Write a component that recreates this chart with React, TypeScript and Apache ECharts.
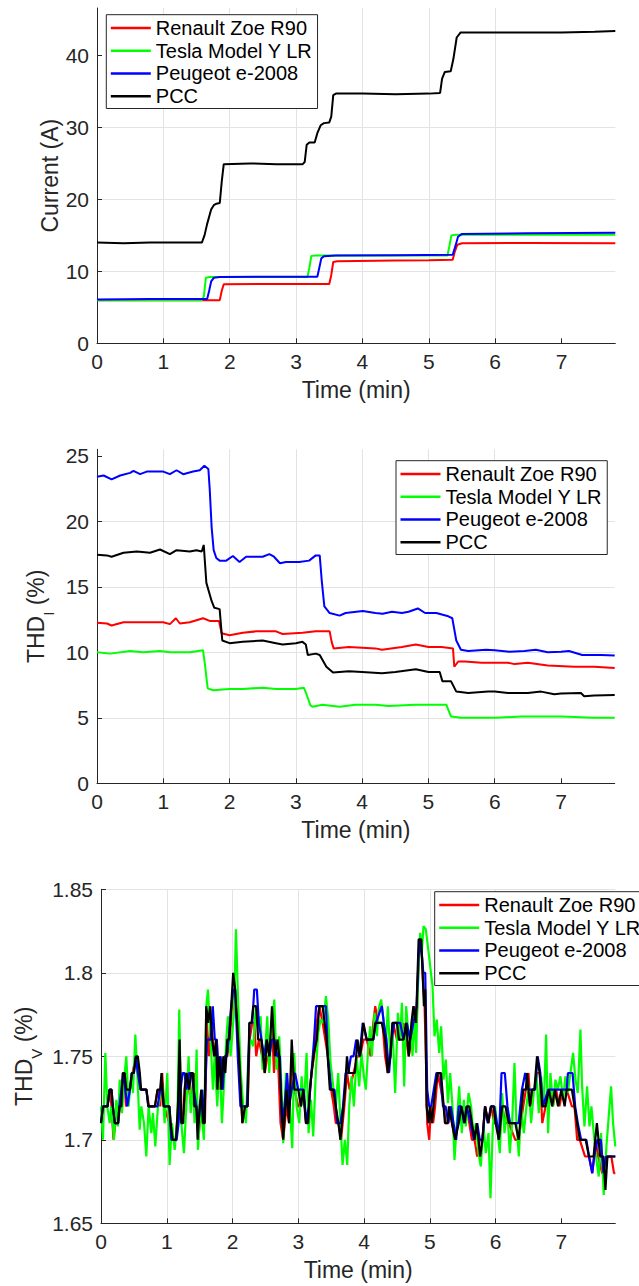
import React, { useEffect, useRef } from "react";
import * as echarts from "echarts";

const FONT = "'Liberation Sans', Arial, Helvetica, sans-serif";
const TXT = "#262626";
const GRID = "#e3e3e3";

const seriesNames = ["Renault Zoe R90", "Tesla Model Y LR", "Peugeot e-2008", "PCC"];
const seriesColors = ["#ff0000", "#00ff00", "#0000ff", "#000000"];

const timeTicks = [0, 1, 2, 3, 4, 5, 6, 7];
const currentTicks = [0, 10, 20, 30, 40];
const thdITicks = [0, 5, 10, 15, 20, 25];
const thdVTicks = [1.65, 1.7, 1.75, 1.8, 1.85];

// ---------- Panel 1: Current (A) ----------
const renaultCurrent = [[0,6.0],[0.8,6.0],[1.6,6.0],[1.85,6.0],[1.88,7.3],[1.91,8.2],[2.5,8.25],[3.0,8.25],[3.5,8.25],[3.53,9.5],[3.56,11.3],[3.62,11.4],[4.5,11.5],[5.0,11.55],[5.36,11.6],[5.39,12.7],[5.43,13.7],[5.5,13.9],[6.5,13.95],[7.81,13.9]];
const teslaCurrent = [[0,6.0],[1.58,6.0],[1.61,6.5],[1.64,9.1],[1.7,9.2],[2.5,9.2],[3.17,9.2],[3.2,10.5],[3.23,12.15],[3.3,12.2],[4.5,12.2],[5.28,12.2],[5.31,13.5],[5.34,15.0],[5.4,15.1],[6.5,15.1],[7.81,15.1]];
const peugeotCurrent = [[0,6.1],[0.8,6.15],[1.66,6.15],[1.69,7.3],[1.72,8.6],[1.76,9.1],[1.85,9.2],[2.5,9.25],[3.32,9.25],[3.35,10.5],[3.38,11.8],[3.42,12.1],[3.6,12.2],[4.5,12.25],[5.36,12.3],[5.4,13.5],[5.44,14.8],[5.5,15.2],[6.5,15.3],[7.81,15.35]];
const pccCurrent = [[0,14.0],[0.4,13.9],[0.8,14.0],[1.2,14.0],[1.58,14.0],[1.62,15.0],[1.66,16.6],[1.72,18.6],[1.76,19.2],[1.8,19.4],[1.85,19.5],[1.88,22.5],[1.91,24.9],[2.3,25.0],[2.7,24.9],[3.1,24.9],[3.13,25.2],[3.16,27.6],[3.2,27.9],[3.28,27.9],[3.32,29.2],[3.37,30.3],[3.42,30.6],[3.5,30.7],[3.53,31.5],[3.56,34.5],[3.6,34.7],[4.0,34.7],[4.5,34.6],[5.0,34.7],[5.17,34.8],[5.2,36.8],[5.24,37.7],[5.33,37.8],[5.37,39.5],[5.42,42.5],[5.48,43.2],[6.0,43.2],[6.5,43.2],[7.0,43.2],[7.5,43.3],[7.81,43.4]];

// ---------- Panel 2: THD_I (%) ----------
const renaultThdI = [[0,12.25],[0.15,12.2],[0.22,12.05],[0.4,12.3],[0.7,12.3],[1.0,12.3],[1.1,12.15],[1.19,12.6],[1.25,12.2],[1.4,12.3],[1.6,12.6],[1.7,12.4],[1.84,12.4],[1.88,11.45],[2.0,11.3],[2.2,11.5],[2.4,11.6],[2.7,11.6],[2.8,11.4],[3.1,11.5],[3.3,11.6],[3.51,11.6],[3.54,10.8],[3.57,10.3],[3.8,10.4],[4.2,10.3],[4.3,10.2],[4.6,10.4],[4.81,10.6],[5.0,10.4],[5.2,10.4],[5.37,10.3],[5.39,8.9],[5.45,9.3],[5.55,9.3],[5.8,9.2],[6.2,9.2],[6.3,9.1],[6.5,9.2],[6.8,9.0],[7.2,8.9],[7.5,8.9],[7.81,8.8]];
const teslaThdI = [[0,10.0],[0.2,9.9],[0.5,10.1],[0.7,10.0],[0.95,10.1],[1.1,10.0],[1.4,10.0],[1.6,10.15],[1.63,9.0],[1.67,7.25],[1.75,7.1],[2.0,7.2],[2.2,7.2],[2.5,7.3],[2.7,7.2],[3.0,7.2],[3.12,7.3],[3.16,6.8],[3.22,5.95],[3.25,5.85],[3.4,6.0],[3.66,5.85],[3.9,6.0],[4.2,6.0],[4.4,5.9],[4.8,6.0],[5.0,6.0],[5.27,6.0],[5.3,5.6],[5.34,5.1],[5.5,5.0],[6.0,5.0],[6.4,5.1],[7.0,5.1],[7.5,5.0],[7.81,5.0]];
const peugeotThdI = [[0,23.4],[0.1,23.5],[0.22,23.2],[0.35,23.5],[0.5,23.7],[0.55,23.85],[0.65,23.6],[0.75,23.8],[1.0,23.8],[1.1,23.6],[1.2,23.9],[1.3,23.6],[1.45,23.8],[1.55,23.9],[1.62,24.25],[1.68,24.0],[1.7,22.5],[1.73,19.5],[1.76,17.8],[1.8,17.2],[1.85,17.0],[1.95,17.0],[2.05,17.35],[2.15,16.9],[2.25,17.3],[2.5,17.3],[2.6,17.5],[2.67,17.3],[2.76,16.8],[2.85,16.9],[3.05,16.9],[3.2,17.0],[3.3,17.4],[3.36,17.4],[3.39,15.5],[3.43,13.5],[3.51,13.0],[3.66,12.8],[3.75,13.0],[4.01,13.15],[4.2,13.0],[4.31,12.95],[4.45,13.1],[4.6,13.0],[4.7,13.1],[4.84,13.35],[4.95,13.0],[5.12,13.0],[5.3,12.75],[5.36,12.6],[5.42,10.9],[5.49,10.2],[5.6,10.1],[5.87,10.2],[6.0,10.15],[6.22,10.05],[6.45,10.1],[6.62,10.2],[6.8,10.0],[7.0,10.05],[7.12,10.1],[7.32,9.8],[7.6,9.8],[7.81,9.75]];
const pccThdI = [[0,17.45],[0.15,17.4],[0.22,17.3],[0.4,17.6],[0.6,17.7],[0.8,17.6],[0.95,17.85],[1.1,17.5],[1.2,17.8],[1.4,17.7],[1.5,17.8],[1.58,17.7],[1.61,18.2],[1.65,15.3],[1.73,13.9],[1.77,13.4],[1.85,13.3],[1.89,10.9],[2.0,10.7],[2.2,10.8],[2.5,10.9],[2.7,10.7],[2.8,10.6],[3.0,10.7],[3.1,10.8],[3.15,10.6],[3.18,9.8],[3.3,9.9],[3.36,9.8],[3.46,8.9],[3.56,8.45],[3.8,8.55],[4.0,8.5],[4.3,8.4],[4.5,8.5],[4.81,8.7],[5.0,8.5],[5.17,8.5],[5.21,7.8],[5.34,7.8],[5.42,7.0],[5.6,6.9],[5.9,7.0],[6.0,7.0],[6.2,6.9],[6.5,6.9],[6.7,7.0],[6.9,6.8],[7.0,6.85],[7.3,6.9],[7.35,6.65],[7.5,6.7],[7.81,6.75]];

// ---------- Panel 3: THD_V (%) ----------
const renaultThdV = [[0,1.71],[0.04,1.72],[0.1,1.72],[0.13,1.73],[0.16,1.72],[0.19,1.70],[0.22,1.71],[0.26,1.71],[0.29,1.72],[0.32,1.73],[0.35,1.74],[0.38,1.72],[0.44,1.73],[0.48,1.74],[0.53,1.75],[0.56,1.74],[0.6,1.73],[0.69,1.73],[0.73,1.72],[0.82,1.72],[0.86,1.73],[0.9,1.72],[0.93,1.74],[0.96,1.72],[1.04,1.71],[1.09,1.70],[1.14,1.70],[1.17,1.72],[1.2,1.75],[1.23,1.71],[1.27,1.72],[1.3,1.74],[1.34,1.73],[1.37,1.72],[1.41,1.74],[1.45,1.72],[1.48,1.70],[1.52,1.72],[1.55,1.71],[1.58,1.71],[1.61,1.77],[1.64,1.75],[1.67,1.77],[1.7,1.76],[1.73,1.75],[1.76,1.76],[1.79,1.73],[1.82,1.74],[1.85,1.73],[1.88,1.75],[1.92,1.75],[1.96,1.76],[1.99,1.78],[2.02,1.79],[2.05,1.78],[2.08,1.77],[2.11,1.74],[2.15,1.71],[2.19,1.72],[2.23,1.72],[2.26,1.76],[2.3,1.77],[2.33,1.77],[2.36,1.75],[2.4,1.76],[2.45,1.75],[2.49,1.74],[2.53,1.75],[2.56,1.75],[2.6,1.77],[2.63,1.74],[2.67,1.76],[2.7,1.74],[2.73,1.71],[2.77,1.70],[2.82,1.72],[2.86,1.71],[2.9,1.75],[2.94,1.73],[3.0,1.72],[3.04,1.72],[3.08,1.73],[3.12,1.71],[3.16,1.72],[3.2,1.74],[3.24,1.75],[3.28,1.77],[3.32,1.78],[3.37,1.77],[3.41,1.76],[3.45,1.75],[3.5,1.73],[3.54,1.72],[3.57,1.71],[3.61,1.71],[3.65,1.70],[3.7,1.72],[3.74,1.74],[3.78,1.73],[3.84,1.74],[3.9,1.75],[3.94,1.75],[3.99,1.76],[4.04,1.76],[4.1,1.75],[4.14,1.77],[4.17,1.78],[4.21,1.77],[4.28,1.77],[4.32,1.75],[4.36,1.74],[4.4,1.75],[4.44,1.77],[4.5,1.76],[4.54,1.76],[4.6,1.77],[4.64,1.76],[4.68,1.75],[4.72,1.76],[4.76,1.78],[4.8,1.77],[4.83,1.81],[4.87,1.82],[4.89,1.80],[4.92,1.78],[4.94,1.75],[4.96,1.71],[4.99,1.70],[5.02,1.72],[5.05,1.71],[5.08,1.72],[5.12,1.74],[5.17,1.73],[5.21,1.72],[5.24,1.71],[5.28,1.71],[5.31,1.72],[5.34,1.71],[5.38,1.70],[5.42,1.71],[5.47,1.72],[5.52,1.71],[5.56,1.72],[5.6,1.71],[5.64,1.70],[5.68,1.70],[5.72,1.69],[5.76,1.70],[5.8,1.70],[5.84,1.72],[5.89,1.71],[5.93,1.72],[5.98,1.71],[6.02,1.71],[6.06,1.70],[6.1,1.72],[6.15,1.71],[6.2,1.71],[6.3,1.70],[6.35,1.70],[6.42,1.72],[6.46,1.73],[6.5,1.74],[6.53,1.72],[6.57,1.73],[6.6,1.73],[6.63,1.74],[6.67,1.74],[6.71,1.71],[6.76,1.72],[6.82,1.73],[6.87,1.72],[6.92,1.73],[6.97,1.72],[7.02,1.73],[7.08,1.73],[7.16,1.72],[7.2,1.72],[7.24,1.70],[7.28,1.70],[7.36,1.69],[7.42,1.69],[7.47,1.68],[7.52,1.70],[7.56,1.69],[7.62,1.68],[7.66,1.68],[7.7,1.69],[7.76,1.69],[7.8,1.68],[7.82,1.68]];
const teslaThdV = [[0,1.72],[0.03,1.70],[0.066,1.752],[0.096,1.72],[0.132,1.71],[0.157,1.72],[0.198,1.70],[0.233,1.724],[0.258,1.708],[0.284,1.736],[0.319,1.716],[0.36,1.74],[0.385,1.75],[0.42,1.72],[0.461,1.74],[0.486,1.728],[0.522,1.763],[0.552,1.74],[0.588,1.706],[0.613,1.72],[0.654,1.71],[0.689,1.69],[0.724,1.72],[0.765,1.704],[0.79,1.716],[0.826,1.696],[0.866,1.72],[0.892,1.724],[0.917,1.736],[0.942,1.728],[0.967,1.71],[1.008,1.74],[1.043,1.685],[1.079,1.71],[1.12,1.694],[1.16,1.71],[1.19,1.778],[1.221,1.71],[1.261,1.692],[1.297,1.72],[1.332,1.75],[1.363,1.716],[1.398,1.732],[1.423,1.71],[1.454,1.754],[1.474,1.694],[1.515,1.72],[1.565,1.70],[1.601,1.78],[1.626,1.79],[1.666,1.76],[1.702,1.73],[1.727,1.75],[1.768,1.72],[1.803,1.75],[1.839,1.71],[1.879,1.74],[1.905,1.76],[1.93,1.774],[1.97,1.75],[2.022,1.776],[2.052,1.826],[2.087,1.78],[2.123,1.742],[2.163,1.72],[2.204,1.71],[2.239,1.75],[2.275,1.76],[2.315,1.756],[2.356,1.78],[2.391,1.766],[2.427,1.774],[2.457,1.742],[2.493,1.752],[2.528,1.774],[2.558,1.74],[2.594,1.766],[2.635,1.784],[2.67,1.742],[2.71,1.762],[2.746,1.73],[2.771,1.698],[2.812,1.74],[2.847,1.728],[2.872,1.72],[2.908,1.695],[2.938,1.752],[2.974,1.72],[3.015,1.71],[3.05,1.738],[3.085,1.72],[3.126,1.752],[3.156,1.704],[3.192,1.724],[3.227,1.702],[3.268,1.742],[3.303,1.764],[3.339,1.772],[3.379,1.77],[3.42,1.786],[3.455,1.772],[3.49,1.746],[3.531,1.732],[3.571,1.72],[3.607,1.74],[3.642,1.71],[3.673,1.685],[3.708,1.70],[3.744,1.685],[3.774,1.72],[3.809,1.738],[3.845,1.72],[3.886,1.75],[3.926,1.732],[3.961,1.752],[3.997,1.738],[4.027,1.73],[4.058,1.752],[4.093,1.768],[4.119,1.75],[4.159,1.776],[4.195,1.762],[4.22,1.778],[4.26,1.784],[4.296,1.772],[4.331,1.756],[4.362,1.78],[4.398,1.75],[4.433,1.766],[4.473,1.728],[4.514,1.776],[4.549,1.76],[4.575,1.782],[4.61,1.732],[4.64,1.78],[4.676,1.762],[4.711,1.766],[4.737,1.75],[4.767,1.776],[4.792,1.752],[4.818,1.79],[4.853,1.824],[4.878,1.812],[4.904,1.828],[4.939,1.826],[4.97,1.816],[5.005,1.804],[5.041,1.792],[5.071,1.762],[5.106,1.772],[5.142,1.752],[5.172,1.768],[5.208,1.736],[5.243,1.748],[5.274,1.722],[5.309,1.74],[5.344,1.72],[5.375,1.688],[5.41,1.71],[5.446,1.732],[5.486,1.704],[5.517,1.724],[5.547,1.708],[5.588,1.728],[5.628,1.72],[5.664,1.702],[5.699,1.71],[5.74,1.692],[5.775,1.684],[5.816,1.708],[5.851,1.692],[5.892,1.704],[5.922,1.665],[5.958,1.708],[5.993,1.72],[6.023,1.708],[6.064,1.692],[6.099,1.728],[6.135,1.704],[6.175,1.72],[6.216,1.692],[6.251,1.71],[6.287,1.746],[6.317,1.71],[6.353,1.69],[6.388,1.72],[6.429,1.704],[6.469,1.72],[6.505,1.732],[6.54,1.71],[6.58,1.728],[6.621,1.74],[6.656,1.716],[6.692,1.738],[6.733,1.72],[6.768,1.763],[6.798,1.704],[6.834,1.74],[6.874,1.72],[6.91,1.736],[6.945,1.73],[6.986,1.738],[7.026,1.724],[7.062,1.738],[7.097,1.728],[7.138,1.74],[7.178,1.752],[7.214,1.736],[7.249,1.728],[7.29,1.766],[7.315,1.732],[7.351,1.708],[7.391,1.732],[7.427,1.708],[7.457,1.72],[7.492,1.704],[7.533,1.688],[7.568,1.678],[7.604,1.704],[7.644,1.667],[7.685,1.696],[7.72,1.714],[7.756,1.732],[7.786,1.71],[7.82,1.696]];
const peugeotThdV = [[0,1.71],[0.03,1.72],[0.1,1.72],[0.13,1.73],[0.16,1.73],[0.18,1.72],[0.21,1.71],[0.26,1.71],[0.28,1.72],[0.31,1.73],[0.34,1.74],[0.37,1.73],[0.4,1.72],[0.44,1.73],[0.47,1.74],[0.5,1.74],[0.53,1.75],[0.56,1.74],[0.6,1.73],[0.69,1.73],[0.72,1.72],[0.86,1.72],[0.9,1.73],[0.93,1.73],[0.96,1.72],[1.04,1.72],[1.07,1.70],[1.15,1.70],[1.18,1.71],[1.21,1.73],[1.24,1.74],[1.27,1.74],[1.3,1.73],[1.34,1.74],[1.38,1.74],[1.41,1.73],[1.45,1.72],[1.48,1.71],[1.51,1.72],[1.54,1.73],[1.57,1.71],[1.61,1.76],[1.64,1.76],[1.67,1.76],[1.7,1.78],[1.73,1.76],[1.76,1.76],[1.79,1.74],[1.82,1.75],[1.85,1.73],[1.88,1.75],[1.91,1.75],[1.94,1.76],[1.98,1.78],[2.01,1.79],[2.04,1.79],[2.08,1.75],[2.12,1.72],[2.16,1.72],[2.22,1.72],[2.26,1.77],[2.3,1.77],[2.33,1.79],[2.37,1.79],[2.4,1.77],[2.44,1.76],[2.48,1.75],[2.52,1.76],[2.56,1.75],[2.6,1.76],[2.64,1.76],[2.68,1.75],[2.72,1.75],[2.75,1.71],[2.79,1.72],[2.83,1.74],[2.86,1.72],[2.9,1.73],[2.95,1.74],[3.0,1.73],[3.04,1.73],[3.08,1.73],[3.12,1.71],[3.16,1.72],[3.2,1.74],[3.24,1.76],[3.27,1.78],[3.42,1.78],[3.45,1.75],[3.5,1.73],[3.55,1.73],[3.59,1.71],[3.64,1.71],[3.68,1.72],[3.72,1.74],[3.76,1.74],[3.8,1.75],[3.84,1.75],[3.88,1.76],[3.93,1.75],[3.98,1.77],[4.04,1.76],[4.14,1.76],[4.18,1.77],[4.27,1.78],[4.3,1.77],[4.34,1.76],[4.38,1.74],[4.42,1.76],[4.46,1.77],[4.55,1.77],[4.6,1.76],[4.65,1.77],[4.7,1.76],[4.75,1.77],[4.8,1.78],[4.84,1.82],[4.88,1.81],[4.9,1.80],[4.93,1.80],[4.96,1.73],[4.99,1.72],[5.02,1.72],[5.06,1.73],[5.1,1.74],[5.16,1.74],[5.2,1.72],[5.24,1.72],[5.28,1.71],[5.32,1.72],[5.36,1.71],[5.4,1.70],[5.44,1.72],[5.48,1.72],[5.52,1.71],[5.56,1.72],[5.62,1.71],[5.67,1.70],[5.72,1.71],[5.76,1.70],[5.8,1.70],[5.84,1.72],[5.88,1.71],[5.93,1.72],[5.98,1.72],[6.02,1.71],[6.05,1.70],[6.09,1.74],[6.14,1.74],[6.18,1.72],[6.22,1.71],[6.3,1.71],[6.35,1.71],[6.4,1.73],[6.45,1.74],[6.5,1.73],[6.55,1.73],[6.6,1.73],[6.64,1.75],[6.68,1.74],[6.72,1.72],[6.8,1.73],[7.08,1.73],[7.1,1.74],[7.17,1.74],[7.21,1.72],[7.25,1.71],[7.3,1.70],[7.38,1.70],[7.42,1.69],[7.47,1.68],[7.5,1.69],[7.55,1.70],[7.6,1.70],[7.64,1.68],[7.68,1.69],[7.82,1.69]];
const pccThdV = [[0,1.71],[0.03,1.72],[0.1,1.72],[0.13,1.73],[0.16,1.73],[0.18,1.72],[0.21,1.71],[0.26,1.71],[0.28,1.72],[0.31,1.72],[0.33,1.74],[0.36,1.74],[0.385,1.73],[0.44,1.73],[0.47,1.74],[0.5,1.74],[0.53,1.75],[0.56,1.75],[0.59,1.74],[0.61,1.73],[0.69,1.73],[0.72,1.72],[0.82,1.72],[0.86,1.73],[0.9,1.73],[0.92,1.74],[0.95,1.72],[1.04,1.72],[1.06,1.71],[1.09,1.70],[1.14,1.70],[1.17,1.72],[1.195,1.76],[1.22,1.71],[1.25,1.71],[1.27,1.73],[1.3,1.74],[1.34,1.73],[1.37,1.74],[1.4,1.74],[1.42,1.72],[1.45,1.72],[1.47,1.70],[1.5,1.72],[1.525,1.73],[1.55,1.71],[1.575,1.71],[1.6,1.78],[1.63,1.77],[1.66,1.78],[1.69,1.76],[1.72,1.75],[1.75,1.76],[1.77,1.73],[1.8,1.75],[1.83,1.73],[1.86,1.75],[1.89,1.74],[1.92,1.76],[1.95,1.76],[1.98,1.78],[2.01,1.80],[2.04,1.79],[2.07,1.77],[2.1,1.75],[2.15,1.71],[2.19,1.72],[2.23,1.72],[2.255,1.77],[2.29,1.77],[2.315,1.78],[2.36,1.78],[2.39,1.76],[2.44,1.76],[2.49,1.74],[2.52,1.76],[2.56,1.75],[2.6,1.78],[2.645,1.75],[2.685,1.76],[2.71,1.75],[2.745,1.72],[2.77,1.70],[2.82,1.73],[2.86,1.71],[2.9,1.76],[2.94,1.73],[3.0,1.73],[3.04,1.72],[3.075,1.73],[3.115,1.71],[3.15,1.71],[3.175,1.73],[3.23,1.75],[3.28,1.76],[3.32,1.78],[3.37,1.78],[3.4,1.77],[3.43,1.76],[3.48,1.73],[3.53,1.73],[3.57,1.72],[3.61,1.71],[3.64,1.70],[3.71,1.73],[3.74,1.75],[3.77,1.74],[3.86,1.74],[3.9,1.76],[3.94,1.75],[3.99,1.77],[4.04,1.76],[4.14,1.76],[4.17,1.77],[4.27,1.77],[4.32,1.76],[4.36,1.74],[4.4,1.75],[4.43,1.77],[4.5,1.77],[4.53,1.76],[4.6,1.76],[4.64,1.77],[4.68,1.75],[4.72,1.77],[4.75,1.78],[4.79,1.77],[4.83,1.82],[4.87,1.82],[4.89,1.80],[4.91,1.78],[4.93,1.79],[4.95,1.72],[4.98,1.71],[5.0,1.72],[5.03,1.71],[5.08,1.73],[5.12,1.74],[5.17,1.74],[5.21,1.72],[5.23,1.71],[5.27,1.71],[5.29,1.72],[5.335,1.71],[5.385,1.70],[5.44,1.71],[5.48,1.72],[5.53,1.71],[5.56,1.72],[5.6,1.72],[5.64,1.71],[5.68,1.70],[5.715,1.71],[5.765,1.69],[5.8,1.70],[5.84,1.72],[5.89,1.71],[5.93,1.72],[5.97,1.72],[6.0,1.71],[6.05,1.70],[6.1,1.72],[6.15,1.72],[6.2,1.71],[6.3,1.71],[6.35,1.70],[6.42,1.73],[6.46,1.73],[6.48,1.74],[6.52,1.72],[6.555,1.73],[6.59,1.73],[6.63,1.75],[6.67,1.74],[6.71,1.72],[6.76,1.72],[6.81,1.73],[6.86,1.72],[6.9,1.73],[6.95,1.72],[7.0,1.73],[7.05,1.72],[7.08,1.73],[7.16,1.73],[7.2,1.72],[7.24,1.71],[7.28,1.70],[7.37,1.70],[7.42,1.69],[7.49,1.69],[7.54,1.71],[7.59,1.69],[7.64,1.69],[7.67,1.67],[7.7,1.69],[7.82,1.69]];

const panelData = [
  [renaultCurrent, teslaCurrent, peugeotCurrent, pccCurrent],
  [renaultThdI, teslaThdI, peugeotThdI, pccThdI],
  [renaultThdV, teslaThdV, peugeotThdV, pccThdV],
];
const panelLineWidth = [2, 2, 2.2];

function xAxisFor(gridIndex: number, max: number) {
  return {
    type: "value",
    gridIndex,
    min: 0,
    max,
    interval: 1,
    name: "Time (min)",
    nameLocation: "middle",
    nameGap: 35,
    nameMoveOverlap: false,
    nameTextStyle: { color: TXT, fontSize: 23, fontFamily: FONT },
    axisLine: { show: true, onZero: false, lineStyle: { color: TXT, width: 1 } },
    axisTick: { show: true, inside: true, length: 5, lineStyle: { color: TXT, width: 1 }, customValues: timeTicks },
    axisLabel: { color: TXT, fontSize: 21, fontFamily: FONT, margin: 8, customValues: timeTicks, formatter: (v: number) => String(v) },
    splitLine: { show: true, showMaxLine: false, lineStyle: { color: GRID, width: 1 } },
  };
}

function yAxisFor(gridIndex: number, min: number, max: number, interval: number, ticks: number[], name: string, nameGap: number) {
  return {
    type: "value",
    gridIndex,
    min,
    max,
    interval,
    name,
    nameLocation: "middle",
    nameGap,
    nameMoveOverlap: false,
    nameTextStyle: {
      color: TXT,
      fontSize: 23,
      lineHeight: 23,
      fontFamily: FONT,
      rich: {
        sub: { fontSize: 15, lineHeight: 15, padding: [26, 0, 0, 0], color: TXT, fontFamily: FONT },
      },
    },
    axisLine: { show: true, onZero: false, lineStyle: { color: TXT, width: 1 } },
    axisTick: { show: true, inside: true, length: 5, lineStyle: { color: TXT, width: 1 }, customValues: ticks },
    axisLabel: { color: TXT, fontSize: 21, fontFamily: FONT, margin: 8, customValues: ticks, formatter: (v: number) => String(v) },
    splitLine: { show: true, showMaxLine: max === ticks[ticks.length - 1], lineStyle: { color: GRID, width: 1 } },
  };
}

function legendFor(left: number, top: number) {
  return {
    orient: "vertical",
    left,
    top,
    data: seriesNames,
    icon: "rect",
    itemWidth: 40,
    itemHeight: 2.5,
    itemGap: 0,
    padding: [2, 5, 1, 4.5],
    borderColor: TXT,
    borderWidth: 1,
    borderRadius: 0,
    backgroundColor: "#ffffff",
    selectedMode: false,
    textStyle: { color: "#000000", fontSize: 20, lineHeight: 22.7, fontFamily: FONT },
  };
}

function buildOption() {
  const series: any[] = [];
  panelData.forEach((panel, p) => {
    panel.forEach((data, i) => {
      series.push({
        type: "line",
        name: seriesNames[i],
        xAxisIndex: p,
        yAxisIndex: p,
        data,
        showSymbol: false,
        symbol: "none",
        smooth: false,
        clip: true,
        color: seriesColors[i],
        lineStyle: { color: seriesColors[i], width: panelLineWidth[p] },
        z: 2 + i,
      });
    });
  });
  const gridBase = { containLabel: false, outerBoundsMode: "none" };
  return {
    animation: false,
    backgroundColor: "#ffffff",
    textStyle: { fontFamily: FONT },
    grid: [
      { ...gridBase, left: 97, top: 8, width: 518.3, height: 335.3 },
      { ...gridBase, left: 97, top: 449.3, width: 517.7, height: 334 },
      { ...gridBase, left: 101, top: 889.3, width: 514.3, height: 334 },
    ],
    xAxis: [xAxisFor(0, 7.81), xAxisFor(1, 7.81), xAxisFor(2, 7.82)],
    yAxis: [
      yAxisFor(0, 0, 46.6, 10, currentTicks, "Current (A)", 36),
      yAxisFor(1, 0, 25.5, 5, thdITicks, "THD{sub|I} (%)", 50),
      yAxisFor(2, 1.65, 1.85, 0.05, thdVTicks, "THD{sub|V} (%)", 66),
    ],
    legend: [legendFor(106.3, 14.7), legendFor(396, 460.7), legendFor(434.7, 891.7)],
    series,
  };
}

export default function App() {
  const ref = useRef<HTMLDivElement>(null);
  useEffect(() => {
    if (!ref.current) return;
    const chart = echarts.init(ref.current, null, { renderer: "svg" });
    chart.setOption(buildOption() as any);
    return () => chart.dispose();
  }, []);
  return (
    <div
      ref={ref}
      style={{ position: "absolute", left: 0, top: 0, width: 639, height: 1286, background: "#ffffff" }}
    />
  );
}
